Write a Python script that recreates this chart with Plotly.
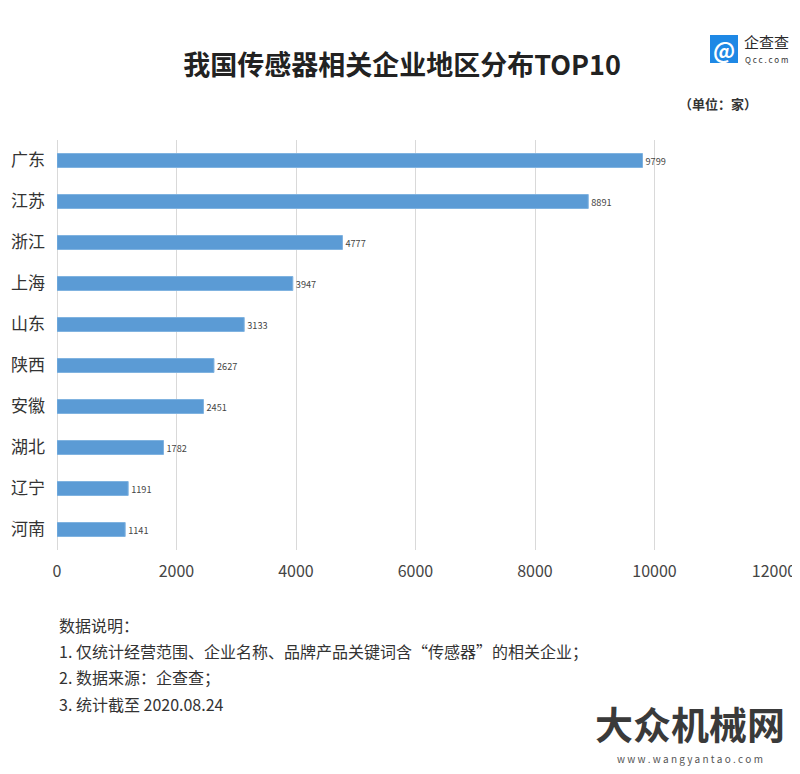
import plotly.graph_objects as go

regions = ["广东", "江苏", "浙江", "上海", "山东", "陕西", "安徽", "湖北", "辽宁", "河南"]
counts = [9799, 8891, 4777, 3947, 3133, 2627, 2451, 1782, 1191, 1141]
tick_vals = [0, 2000, 4000, 6000, 8000, 10000, 12000]
tick_text = ["0", "2000", "4000", "6000", "8000", "10000", "12000"]

FONT = "Noto Sans CJK SC"
W, H = 800, 774
OFF = 8  # page body margin offset
L, R, T, B = 57 - OFF, W - (774 - OFF), 140 - OFF, H - (550 - OFF)
PW, PH = W - L - R, H - T - B

def px(x):
    return (x - OFF - L) / PW

def py(y):
    return 1 - (y - OFF - T) / PH

fig = go.Figure()
fig.add_trace(go.Bar(
    x=counts, y=regions, orientation="h",
    marker=dict(color="#5B9BD5", line=dict(color="#7FB2E0", width=1)),
    text=[str(c) for c in counts], textposition="outside",
    textfont=dict(size=12.5, color="#444444", family=FONT),
    cliponaxis=False, width=0.34,
))

fig.update_layout(
    width=W, height=H,
    plot_bgcolor="white", paper_bgcolor="white",
    margin=dict(l=L, r=R, t=T, b=B, autoexpand=False),
    showlegend=False,
    font=dict(family=FONT, color="#333333"),
    xaxis=dict(range=[0, 12000], tickvals=tick_vals, ticktext=tick_text,
               showgrid=True, gridcolor="#D9D9D9", gridwidth=1,
               zeroline=True, zerolinecolor="#D9D9D9", zerolinewidth=1,
               showline=False, ticks="", ticklabelstandoff=10,
               tickfont=dict(size=16, color="#444444", family=FONT)),
    yaxis=dict(categoryorder="array", categoryarray=regions[::-1],
               showgrid=False, showline=False, ticks="", zeroline=False,
               ticklabelstandoff=11,
               tickfont=dict(size=17, color="#333333", family=FONT)),
    title=dict(text="<b>我国传感器相关企业地区分布TOP10</b>", x=(402 - OFF) / W, xanchor="center",
               y=1 - (66 - OFF) / H, yref="container", yanchor="middle",
               font=dict(size=27, color="#222222", family=FONT)),
)

anns = [
    dict(text="<b>（单位：家）</b>", x=718, y=104, xanchor="center", font=dict(size=13, color="#333333")),
    dict(text="数据说明：", x=57, y=625, xanchor="left", font=dict(size=16, color="#333333")),
    dict(text="1. 仅统计经营范围、企业名称、品牌产品关键词含“传感器”的相关企业；", x=57, y=651, xanchor="left", font=dict(size=16, color="#333333")),
    dict(text="2. 数据来源：企查查；", x=57, y=677, xanchor="left", font=dict(size=16, color="#333333")),
    dict(text="3. 统计截至 2020.08.24", x=57, y=704, xanchor="left", font=dict(size=16, color="#333333")),
    dict(text="<b>大众机械网</b>", x=690, y=722, xanchor="center", font=dict(size=38, color="#3a3a3a")),
    dict(text="w w w . w a n g y a n t a o . c o m", x=690, y=758, xanchor="center", font=dict(size=10, color="#555555")),
    dict(text="企查查", x=766, y=41, xanchor="center", font=dict(size=15, color="#2a2a2a")),
    dict(text="Q c c . c o m", x=766, y=59, xanchor="center", font=dict(size=8, color="#333333")),
    dict(text="<b>@</b>", x=724, y=49, xanchor="center", font=dict(size=22, color="white")),
]
for a in anns:
    fig.add_annotation(xref="paper", yref="paper", showarrow=False,
                       x=px(a.pop("x")), y=py(a.pop("y")),
                       yanchor="middle", **a)

# logo square
fig.add_shape(type="rect", xref="paper", yref="paper",
              x0=px(710), x1=px(738), y0=py(63), y1=py(35),
              fillcolor="#1E88E5", line=dict(width=0), layer="below")

fig.write_html("out.html")
